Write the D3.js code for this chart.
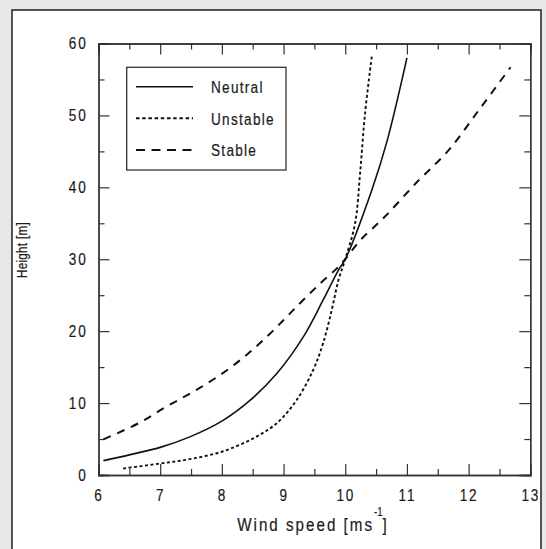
<!DOCTYPE html>
<html>
<head>
<meta charset="utf-8">
<script src="https://cdn.jsdelivr.net/npm/d3@7"></script>
<style>
  body { margin: 0; background: #e8e8e8; }
  svg { display: block; }
  .lbl { font-family: "Liberation Sans", Arial, sans-serif; fill: #1a1a1a; stroke: #1a1a1a; stroke-width: 0.2; }
</style>
</head>
<body>
<div id="chart"></div>
<script>
// values
const neutralSpeed  = [6.08, 6.5, 7.0, 7.48, 8.02, 8.46, 8.89, 9.32, 9.64, 9.89, 10.0, 10.43, 10.68, 11.0];
const neutralHeight = [2.0, 2.8, 3.84, 5.3, 7.6, 10.4, 14.1, 19.2, 24.3, 28.5, 30, 39.6, 46.5, 58];

const unstableSpeed  = [6.4, 7.0, 7.48, 8.02, 8.51, 8.89, 9.21, 9.48, 9.64, 9.78, 9.89, 10.0, 10.16, 10.24, 10.32, 10.43];
const unstableHeight = [0.9, 1.6, 2.2, 3.3, 5.1, 7.2, 10.4, 14.6, 18.3, 22.9, 27.1, 30, 35.0, 41.9, 50.2, 58.2];

const stableSpeed  = [6.08, 6.65, 7.10, 7.54, 7.97, 8.40, 8.81, 9.21, 9.59, 9.86, 10.0, 10.24, 10.64, 11.16, 11.67, 12.18, 12.68];
const stableHeight = [4.96, 7.2, 9.5, 11.6, 13.9, 16.7, 19.9, 23.4, 26.6, 28.7, 30, 32.6, 35.9, 40.7, 45.1, 50.9, 56.7];

const seriesNames = ["Neutral", "Unstable", "Stable"];
const xTicks = [6, 7, 8, 9, 10, 11, 12, 13];
const xMinor = [6.5, 7.5, 8.5, 9.5, 10.5, 11.5, 12.5];
const yTicks = [0, 10, 20, 30, 40, 50, 60];
const yMinor = [5, 15, 25, 35, 45, 55];

const WIDTH = 546, HEIGHT = 549;
const plot = { left: 98.5, right: 530.3, top: 43.5, bottom: 475 };
const SX = 0.8; // the source font is a narrow one, squeeze Liberation Sans

const dashes = { Neutral: null, Unstable: "3,2.5", Stable: "8,7" };
const widths = { Neutral: 1.6, Unstable: 1.9, Stable: 2 };

const svg = d3.select("#chart").append("svg")
    .attr("width", WIDTH)
    .attr("height", HEIGHT);

svg.append("rect").attr("width", WIDTH).attr("height", HEIGHT).attr("fill", "#e8e8e8");

// white panel
svg.append("rect")
    .attr("x", 12).attr("y", 10)
    .attr("width", 529).attr("height", 560)
    .attr("fill", "#fff")
    .attr("stroke", "#2b2b2b")
    .attr("stroke-width", 1.6);

const xScale = d3.scaleLinear().domain([6, 13]).range([plot.left, plot.right]);
const yScale = d3.scaleLinear().domain([0, 60]).range([plot.bottom, plot.top]);

// squeeze a text horizontally while keeping its anchor at x
function narrow(sel) {
    sel.each(function() {
        const t = d3.select(this);
        const x = +t.attr("x") || 0;
        t.attr("transform", `translate(${x * (1 - SX)},0) scale(${SX},1)`);
    });
}

function styleAxis(g) {
    g.select(".domain").attr("stroke", "#333").attr("stroke-width", 1.3);
    g.selectAll(".tick line").attr("stroke", "#333").attr("stroke-width", 1.2);
}

function styleLabels(g) {
    g.selectAll("text")
        .attr("class", "lbl")
        .attr("font-size", 17)
        .attr("letter-spacing", 2.2)
        .call(narrow);
}

// bottom axis with labels
svg.append("g")
    .attr("transform", `translate(0, ${plot.bottom})`)
    .call(d3.axisBottom(xScale).tickValues(xTicks).tickSize(-11).tickPadding(14).tickFormat(d3.format("d")))
    .call(styleAxis)
    .call(styleLabels);
svg.append("g")
    .attr("transform", `translate(0, ${plot.bottom})`)
    .call(d3.axisBottom(xScale).tickValues(xMinor).tickSize(-6).tickFormat(""))
    .call(styleAxis);

// top axis
svg.append("g")
    .attr("transform", `translate(0, ${plot.top})`)
    .call(d3.axisTop(xScale).tickValues(xTicks).tickSize(-11).tickFormat(""))
    .call(styleAxis);
svg.append("g")
    .attr("transform", `translate(0, ${plot.top})`)
    .call(d3.axisTop(xScale).tickValues(xMinor).tickSize(-6).tickFormat(""))
    .call(styleAxis);

// left axis with labels
svg.append("g")
    .attr("transform", `translate(${plot.left}, 0)`)
    .call(d3.axisLeft(yScale).tickValues(yTicks).tickSize(-11).tickPadding(11).tickFormat(d3.format("d")))
    .call(styleAxis)
    .call(styleLabels);
svg.append("g")
    .attr("transform", `translate(${plot.left}, 0)`)
    .call(d3.axisLeft(yScale).tickValues(yMinor).tickSize(-6).tickFormat(""))
    .call(styleAxis);

// right axis
svg.append("g")
    .attr("transform", `translate(${plot.right}, 0)`)
    .call(d3.axisRight(yScale).tickValues(yTicks).tickSize(-11).tickFormat(""))
    .call(styleAxis);
svg.append("g")
    .attr("transform", `translate(${plot.right}, 0)`)
    .call(d3.axisRight(yScale).tickValues(yMinor).tickSize(-6).tickFormat(""))
    .call(styleAxis);

// axis titles
const xTitle = svg.append("text")
    .attr("class", "lbl")
    .attr("x", 313)
    .attr("y", 531)
    .attr("text-anchor", "middle")
    .attr("font-size", 19)
    .attr("letter-spacing", 2.5)
    .call(narrow);
xTitle.append("tspan").text("Wind speed [ms");
xTitle.append("tspan").attr("dy", -15).attr("font-size", 12).attr("letter-spacing", 0).text("-1");
xTitle.append("tspan").attr("dy", 15).text("]");

svg.append("text")
    .attr("class", "lbl")
    .attr("transform", `translate(27, 250) rotate(-90) scale(${SX},1)`)
    .attr("text-anchor", "middle")
    .attr("font-size", 14.5)
    .attr("letter-spacing", 0.4)
    .text("Height [m]");

// curves
const series = [
    { name: "Neutral", speed: neutralSpeed, height: neutralHeight },
    { name: "Unstable", speed: unstableSpeed, height: unstableHeight },
    { name: "Stable", speed: stableSpeed, height: stableHeight }
];

const line = d3.line()
    .x(d => xScale(d[0]))
    .y(d => yScale(d[1]))
    .curve(d3.curveCatmullRom.alpha(0.5));

svg.append("g")
    .selectAll("path")
    .data(series)
    .join("path")
    .attr("fill", "none")
    .attr("stroke", "#111")
    .attr("stroke-width", d => widths[d.name])
    .attr("stroke-dasharray", d => dashes[d.name])
    .attr("d", d => line(d.speed.map((s, i) => [s, d.height[i]])));

// legend
const legend = svg.append("g");
legend.append("rect")
    .attr("x", 126.7).attr("y", 67.3)
    .attr("width", 159.3).attr("height", 102.7)
    .attr("fill", "#fff")
    .attr("stroke", "#333")
    .attr("stroke-width", 1.3);

const legendDash = { Neutral: null, Unstable: "3.5,2.7", Stable: "9,6.5" };
const rows = legend.selectAll("g.row")
    .data(seriesNames)
    .join("g")
    .attr("class", "row")
    .attr("transform", (d, i) => `translate(0, ${86.7 + i * 31.6})`);
rows.append("line")
    .attr("x1", 136).attr("x2", 193)
    .attr("stroke", "#111")
    .attr("stroke-width", d => widths[d])
    .attr("stroke-dasharray", d => legendDash[d]);
rows.append("text")
    .attr("class", "lbl")
    .attr("x", 211)
    .attr("y", 6.5)
    .attr("font-size", 17)
    .attr("letter-spacing", 1.6)
    .text(d => d)
    .call(narrow);
</script>
</body>
</html>
